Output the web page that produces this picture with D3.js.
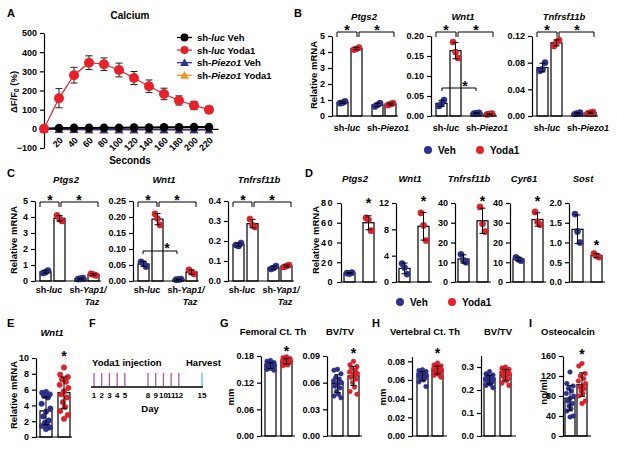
<!DOCTYPE html>
<html>
<head>
<meta charset="utf-8">
<script src="https://cdn.jsdelivr.net/npm/d3@7"></script>
<style>
body { margin: 0; background: #fff; }
text { font-family: "Liberation Sans", Arial, sans-serif; font-weight: bold; fill: #000; }
</style>
</head>
<body>
<script>
// ---- A: calcium trace (mean, error)
const seconds = [0, 20, 40, 60, 80, 100, 120, 140, 160, 180, 200, 220]
const lucVeh = [0, 4, 5, 5, 6, 6, 7, 7, 8, 8, 9, 9]
const lucVehErr = [0, 2, 2, 2, 2, 2, 2, 2, 2, 2, 2, 2]
const lucYoda = [0, 160, 280, 345, 337, 307, 265, 222, 182, 148, 122, 100]
const lucYodaErr = [0, 50, 41, 36, 33, 36, 34, 33, 30, 24, 21, 15]
const piezoVeh = [0, -3, -3, -4, -4, -4, -4, -4, -4, -5, -5, -5]
const piezoYoda = [0, -5, -5, -6, -6, -6, -6, -6, -6, -6, -6, -6]
const aTicks = [-100, 0, 100, 200, 300, 400, 500]

// ---- B: sh-luc Veh, sh-luc Yoda1, sh-Piezo1 Veh, sh-Piezo1 Yoda1
const bGenes = ['Ptgs2', 'Wnt1', 'Tnfrsf11b']
const bTicks = [[0, 1, 2, 3, 4, 5], [0, 0.05, 0.1, 0.15, 0.2], [0, 0.04, 0.08, 0.12]]
const bPtgs2 = [[0.8, 0.92, 0.83], [4.15, 4.28, 4.2], [0.6, 0.8, 0.7], [0.68, 0.8, 0.75]]
const bWnt1 = [[0.025, 0.04, 0.03], [0.185, 0.145, 0.16], [0.006, 0.008, 0.007], [0.004, 0.006, 0.005]]
const bTnfrsf11b = [[0.068, 0.08, 0.07], [0.105, 0.114, 0.11], [0.003, 0.005, 0.004], [0.004, 0.006, 0.005]]

// ---- C: sh-luc Veh, sh-luc Yoda1, sh-Yap1/Taz Veh, sh-Yap1/Taz Yoda1
const cGenes = ['Ptgs2', 'Wnt1', 'Tnfrsf11b']
const cTicks = [[0, 1, 2, 3, 4, 5], [0, 0.05, 0.1, 0.15, 0.2, 0.25], [0, 0.1, 0.2, 0.3, 0.4]]
const cPtgs2 = [[0.5, 0.65, 0.55], [4.1, 3.75, 3.9], [0.12, 0.18, 0.15], [0.45, 0.35, 0.4]]
const cWnt1 = [[0.06, 0.045, 0.055], [0.21, 0.175, 0.195], [0.004, 0.006, 0.005], [0.035, 0.022, 0.027]]
const cTnfrsf11b = [[0.18, 0.19, 0.175], [0.31, 0.27, 0.28], [0.06, 0.075, 0.065], [0.07, 0.08, 0.075]]

// ---- D: Veh, Yoda1
const dGenes = ['Ptgs2', 'Wnt1', 'Tnfrsf11b', 'Cyr61', 'Sost']
const dTicks = [[0, 20, 40, 60, 80], [0, 4, 8, 12], [0, 10, 20, 30, 40], [0, 10, 20, 30, 40], [0, 0.5, 1, 1.5, 2]]
const dPtgs2 = [[9, 9.5, 8.5], [65, 52, 63]]
const dWnt1 = [[2.8, 1.2, 2.2], [10.5, 6.3, 8.6]]
const dTnfrsf11b = [[14, 10, 11], [38, 25.5, 29.5]]
const dCyr61 = [[12.5, 10.8, 11.5], [35.5, 29, 30.5]]
const dSost = [[1.72, 1.0, 1.28], [0.72, 0.63, 0.66]]

// ---- E: Wnt1 in vivo
const eTicks = [0, 2, 4, 6, 8, 10]
const eWnt1Veh = [5.7, 5.6, 5.4, 5.2, 5.0, 4.2, 3.6, 3.2, 2.6, 2.1, 1.8, 1.6, 1.4, 1.2, 1.0]
const eWnt1Yoda = [8.8, 7.9, 7.6, 7.3, 7.0, 6.6, 6.2, 5.8, 5.4, 5.0, 4.4, 3.8, 3.3, 2.8, 2.3]

// ---- F: schedule
const injectionDays = [1, 2, 3, 4, 5, 8, 9, 10, 11, 12]
const harvestDay = 15

// ---- G-I
const femCtThTicks = [0, 0.06, 0.12, 0.18]
const femCtThVeh = [0.17, 0.168, 0.165, 0.163, 0.162, 0.16, 0.159, 0.158, 0.156, 0.155, 0.153, 0.152, 0.15, 0.148, 0.157]
const femCtThYoda = [0.178, 0.176, 0.174, 0.172, 0.17, 0.169, 0.168, 0.167, 0.166, 0.164, 0.162, 0.16, 0.158, 0.172, 0.165]
const femBvtvTicks = [0, 0.03, 0.06, 0.09]
const femBvtvVeh = [0.075, 0.074, 0.07, 0.066, 0.064, 0.062, 0.06, 0.058, 0.056, 0.054, 0.05, 0.047, 0.045, 0.043, 0.06]
const femBvtvYoda = [0.084, 0.08, 0.078, 0.076, 0.074, 0.072, 0.07, 0.068, 0.066, 0.064, 0.06, 0.055, 0.05, 0.047, 0.07]
const vertCtThTicks = [0, 0.02, 0.04, 0.06, 0.08]
const vertCtThVeh = [0.071, 0.07, 0.069, 0.068, 0.067, 0.066, 0.065, 0.064, 0.063, 0.062, 0.061, 0.06, 0.058, 0.053, 0.065]
const vertCtThYoda = [0.078, 0.076, 0.075, 0.074, 0.073, 0.072, 0.071, 0.07, 0.069, 0.068, 0.067, 0.066, 0.065, 0.063, 0.07]
const vertBvtvTicks = [0, 0.1, 0.2, 0.3]
const vertBvtvVeh = [0.28, 0.27, 0.265, 0.26, 0.255, 0.25, 0.248, 0.245, 0.24, 0.235, 0.23, 0.225, 0.22, 0.21, 0.25]
const vertBvtvYoda = [0.3, 0.295, 0.29, 0.285, 0.28, 0.275, 0.27, 0.265, 0.26, 0.25, 0.245, 0.24, 0.23, 0.22, 0.27]
const oclnTicks = [0, 40, 80, 120, 160]
const oclnVeh = [128, 105, 100, 95, 90, 85, 80, 75, 70, 65, 60, 55, 50, 40, 38]
const oclnYoda = [145, 140, 125, 120, 115, 110, 105, 100, 98, 95, 90, 85, 80, 70, 65]

const red = '#e8202a', blue = '#2e3192', orange = '#f7941d', purple = '#a45ca8', cyan = '#45c1e6'
const jit3 = [-2.5, 2.5, 0]
const jit15 = [0, -3.5, 3.5, -1.8, 1.8, -4, 4, 0, -2.5, 2.5, -1, 1, -3.5, 3.5, 0]

const svg = d3.select('body').append('svg').attr('width', 617).attr('height', 449)

// text with _italic_ segments
function label(x, y, str, size = 9.5, anchor = 'middle', rot = false) {
  const t = svg.append('text').attr('x', x).attr('y', y)
    .attr('font-size', size).attr('text-anchor', anchor)
  if (rot) t.attr('transform', `rotate(-90,${x},${y})`)
  str.split('_').forEach((s, i) => {
    if (s) t.append('tspan').text(s).attr('font-style', i % 2 ? 'italic' : null)
  })
  return t
}
function star(x, cy) { label(x, cy + 8, '*', 14) }
function bracket(x1, x2, y, drop) {
  svg.append('path').attr('d', `M${x1},${y + drop}V${y}H${x2}V${y + drop}`)
    .attr('fill', 'none').attr('stroke', '#000').attr('stroke-width', 1)
}
function styleAxis(ax, size = 9) {
  ax.attr('font-family', null).attr('font-size', null)
  ax.selectAll('text').attr('font-size', size)
  ax.selectAll('path,line').attr('stroke', '#000').attr('stroke-width', 1.2)
}

function barChart(c) {
  const y = d3.scaleLinear().domain([0, c.max]).range([c.y0, c.y1])
  const g = svg.append('g')
  c.groups.forEach((dots, i) => {
    const x0 = c.x + c.offs[i], cx = x0 + c.bw / 2
    const m = d3.mean(dots), sd = d3.deviation(dots)
    g.append('rect').attr('x', x0).attr('y', y(m)).attr('width', c.bw).attr('height', y(0) - y(m))
      .attr('fill', '#fff').attr('stroke', '#000').attr('stroke-width', 1.2)
    const col = c.colors[i]
    const jit = dots.length > 3 ? jit15 : jit3
    g.selectAll(null).data(dots).join('circle')
      .attr('cx', (d, k) => cx + jit[k % jit.length] * c.bw / 11)
      .attr('cy', d => y(d)).attr('r', c.r || 3.1)
      .attr('fill', col).attr('stroke', d3.color(col).darker(0.7)).attr('stroke-width', 0.5)
    const lo = y(Math.max(0, m - sd)), hi = y(m + sd), cw = 3
    g.append('path').attr('d', `M${cx},${lo}V${hi}M${cx - cw},${hi}H${cx + cw}M${cx - cw},${lo}H${cx + cw}`)
      .attr('stroke', '#000').attr('stroke-width', 1).attr('fill', 'none')
  })
  const ax = g.append('g').attr('transform', `translate(${c.x},0)`)
    .call(d3.axisLeft(y).tickValues(c.ticks).tickFormat(d3.format(c.fmt)).tickSize(4).tickSizeOuter(0))
  styleAxis(ax)
  if (c.spacing) ax.selectAll('text').attr('letter-spacing', c.spacing)
  g.append('line').attr('x1', c.x).attr('x2', c.x + c.len).attr('y1', c.y0).attr('y2', c.y0)
    .attr('stroke', '#000').attr('stroke-width', 1.2)
  return y
}

// ================= A =================
label(7, 17, 'A', 11, 'start')
label(130, 19, 'Calcium', 10)
const xA = d3.scaleLinear().domain([0, 232]).range([44, 218])
const yA = d3.scaleLinear().domain([-100, 500]).range([148, 33])

const axYA = svg.append('g').attr('transform', 'translate(44,0)')
  .call(d3.axisLeft(yA).tickValues(aTicks).tickSize(4).tickSizeOuter(0))
styleAxis(axYA)
const axXA = svg.append('g').attr('transform', `translate(0,${yA(0)})`)
  .call(d3.axisBottom(xA).tickValues(seconds.slice(1)).tickSize(4).tickSizeOuter(0))
styleAxis(axXA)
axXA.selectAll('text').attr('x', 0).attr('y', 0).attr('dy', null)
  .attr('text-anchor', 'end').attr('transform', 'translate(4,12) rotate(-45)')
label(130, 164, 'Seconds', 10)
const aLab = svg.append('text').attr('x', 16.5).attr('y', 92).attr('font-size', 9.5)
  .attr('text-anchor', 'middle').attr('transform', 'rotate(-90,16.5,92)')
aLab.append('tspan').text('ΔF/F')
aLab.append('tspan').text('0').attr('font-size', 6.5).attr('dy', 2)
aLab.append('tspan').text(' (%)').attr('dy', -2)

const lineA = d3.line().x((d, i) => xA(seconds[i])).y(d => yA(d))
const tri = d3.symbol(d3.symbolTriangle, 34)
function seriesA(vals, col, shape, r, w) {
  svg.append('path').attr('d', lineA(vals)).attr('fill', 'none').attr('stroke', col).attr('stroke-width', w)
  if (shape === 'tri') {
    svg.selectAll(null).data(vals).join('path').attr('d', tri)
      .attr('transform', (d, i) => `translate(${xA(seconds[i])},${yA(d) + 1})`).attr('fill', col)
  } else {
    svg.selectAll(null).data(vals).join('circle')
      .attr('cx', (d, i) => xA(seconds[i])).attr('cy', d => yA(d)).attr('r', r).attr('fill', col)
  }
}
function errA(vals, errs) {
  svg.append('g').selectAll('path').data(vals).join('path')
    .attr('d', (d, i) => {
      const x = xA(seconds[i]), t = yA(d + errs[i]), b = yA(d - errs[i])
      return `M${x},${b}V${t}M${x - 3.5},${t}H${x + 3.5}M${x - 3.5},${b}H${x + 3.5}`
    })
    .attr('fill', 'none').attr('stroke', '#222').attr('stroke-width', 1)
}
seriesA(piezoYoda, orange, 'tri', 0, 1.2)
seriesA(piezoVeh, blue, 'tri', 0, 1.2)
errA(lucVeh, lucVehErr)
seriesA(lucVeh, '#000', 'circle', 4.3, 2)
errA(lucYoda, lucYodaErr)
seriesA(lucYoda, red, 'circle', 5, 1.2)

const legA = [
  ['sh-_luc_ Veh', '#000', 'circle'],
  ['sh-_luc_ Yoda1', red, 'circle'],
  ['sh-_Piezo1_ Veh', blue, 'tri'],
  ['sh-_Piezo1_ Yoda1', orange, 'tri']
]
legA.forEach((l, i) => {
  const y = 37.5 + i * 12.6
  svg.append('line').attr('x1', 177).attr('x2', 192).attr('y1', y).attr('y2', y).attr('stroke', l[1]).attr('stroke-width', 1.3)
  if (l[2] === 'circle') svg.append('circle').attr('cx', 184.5).attr('cy', y).attr('r', 4).attr('fill', l[1])
  else svg.append('path').attr('d', tri).attr('transform', `translate(184.5,${y + 0.8})`).attr('fill', l[1])
  label(197, y + 3.5, l[0], 9.5, 'start')
})

// ================= B =================
label(294, 17, 'B', 11, 'start')
label(316.5, 75, 'Relative mRNA', 9.5, 'middle', true)
const bAxisX = [332, 431, 532]
const bData = [bPtgs2, bWnt1, bTnfrsf11b]
const bFmt = ['d', '.2f', '.2f']
bGenes.forEach((gene, i) => {
  const x = bAxisX[i], t = bTicks[i]
  barChart({ x, y0: 116, y1: 36, max: t[t.length - 1], ticks: t, fmt: bFmt[i], groups: bData[i],
    offs: [5, 19, 40, 53], bw: 11, len: 66, colors: [blue, red, blue, red] })
  label(x + 32, 20, `_${gene}_`)
  label(x + 15, 131, 'sh-_luc_', 9)
  label(x + 56, 131, 'sh-_Piezo1_', 9)
  bracket(x + 5, x + 25, 32, 5)
  bracket(x + 27, x + 62, 32, 5)
  star(x + 15, 27)
  star(x + 45, 27)
})
bracket(bAxisX[1] + 11, bAxisX[1] + 45, 88, 3)
star(bAxisX[1] + 34, 83)
svg.append('circle').attr('cx', 428).attr('cy', 150).attr('r', 4).attr('fill', blue)
label(438, 153.5, 'Veh', 10, 'start')
svg.append('circle').attr('cx', 480).attr('cy', 150).attr('r', 4).attr('fill', red)
label(490, 153.5, 'Yoda1', 10, 'start')

// ================= C =================
label(7, 177, 'C', 11, 'start')
label(16.5, 240, 'Relative mRNA', 9.5, 'middle', true)
const cAxisX = [35, 133, 228]
const cData = [cPtgs2, cWnt1, cTnfrsf11b]
const cFmt = ['d', '.2f', '.1f']
cGenes.forEach((gene, i) => {
  const x = cAxisX[i], t = cTicks[i]
  barChart({ x, y0: 281, y1: 201, max: t[t.length - 1], ticks: t, fmt: cFmt[i], groups: cData[i],
    offs: [5, 19, 40, 53], bw: 11, len: 66, colors: [blue, red, blue, red] })
  label(x + 31, 183, `_${gene}_`)
  label(x + 14, 293, 'sh-_luc_', 9)
  label(x + 53, 293, 'sh-_Yap1/_', 9)
  label(x + 57, 305, '_Taz_', 9)
  bracket(x + 5, x + 24, 202, 5)
  bracket(x + 26, x + 63, 202, 5)
  star(x + 15, 197)
  star(x + 44, 197)
})
bracket(cAxisX[1] + 10, cAxisX[1] + 44, 251, 3)
star(cAxisX[1] + 34, 245)

// ================= D =================
label(305, 177, 'D', 11, 'start')
label(318.5, 240, 'Relative mRNA', 9.5, 'middle', true)
const dAxisX = [341, 396, 455, 510, 569]
const dData = [dPtgs2, dWnt1, dTnfrsf11b, dCyr61, dSost]
const dFmt = ['d', 'd', 'd', 'd', '.1f']
const dStarY = [200, 198, 198, 198, 242]
dGenes.forEach((gene, i) => {
  const x = dAxisX[i], t = dTicks[i]
  barChart({ x, y0: 282, y1: 203, max: t[t.length - 1], ticks: t, fmt: dFmt[i], groups: dData[i],
    offs: [3, 22], bw: 11, len: 36, colors: [blue, red], spacing: i === 0 ? 1.5 : null })
  label(x + 14, 182, `_${gene}_`)
  star(x + 27.5, dStarY[i])
})
svg.append('circle').attr('cx', 400).attr('cy', 302).attr('r', 4).attr('fill', blue)
label(410, 305.5, 'Veh', 10, 'start')
svg.append('circle').attr('cx', 452).attr('cy', 302).attr('r', 4).attr('fill', red)
label(462, 305.5, 'Yoda1', 10, 'start')

// ================= E =================
label(7, 327, 'E', 11, 'start')
label(52, 336, '_Wnt1_', 9.5)
label(16.5, 395, 'Relative mRNA', 9.5, 'middle', true)
barChart({ x: 36, y0: 437, y1: 358, max: 10, ticks: eTicks, fmt: 'd', groups: [eWnt1Veh, eWnt1Yoda],
  offs: [4, 22], bw: 12, len: 36, colors: [blue, red], r: 2.7 })
star(64, 353)

// ================= F =================
label(89, 327, 'F', 11, 'start')
const xF = d3.scaleLinear().domain([1, 15]).range([94, 202])
svg.append('line').attr('x1', 91).attr('x2', 203).attr('y1', 387).attr('y2', 387).attr('stroke', '#000').attr('stroke-width', 1.6)
svg.selectAll(null).data(injectionDays).join('line')
  .attr('x1', d => xF(d)).attr('x2', d => xF(d)).attr('y1', 373).attr('y2', 386)
  .attr('stroke', purple).attr('stroke-width', 1.3)
svg.append('line').attr('x1', xF(harvestDay)).attr('x2', xF(harvestDay)).attr('y1', 373).attr('y2', 386)
  .attr('stroke', cyan).attr('stroke-width', 1.3)
svg.selectAll(null).data([...injectionDays, harvestDay]).join('text')
  .attr('x', d => xF(d)).attr('y', 398).attr('font-size', 8).attr('text-anchor', 'middle').text(d => d)
label(92, 366, 'Yoda1 injection', 9.5, 'start')
label(186, 366, 'Harvest', 9.5, 'start')
label(150, 412, 'Day', 9.5)

// ================= G =================
label(220, 327, 'G', 11, 'start')
label(273, 335, 'Femoral Ct. Th', 9.5)
label(340, 335, 'BV/TV', 9.5)
label(233.5, 397, 'mm', 9.5, 'middle', true)
barChart({ x: 261, y0: 436, y1: 356, max: 0.18, ticks: femCtThTicks, fmt: '.2f', groups: [femCtThVeh, femCtThYoda],
  offs: [4, 20], bw: 11, len: 34, colors: [blue, red], r: 2.3 })
star(286.5, 348)
barChart({ x: 327, y0: 436, y1: 356, max: 0.09, ticks: femBvtvTicks, fmt: '.2f', groups: [femBvtvVeh, femBvtvYoda],
  offs: [5, 21], bw: 11, len: 35, colors: [blue, red], r: 2.3 })
star(353.5, 350)

// ================= H =================
label(372, 327, 'H', 11, 'start')
label(425, 335, 'Vertebral Ct. Th', 9.5)
label(498, 335, 'BV/TV', 9.5)
label(385.5, 397, 'mm', 9.5, 'middle', true)
barChart({ x: 412, y0: 436, y1: 356.6, max: 0.085, ticks: vertCtThTicks, fmt: '.2f', groups: [vertCtThVeh, vertCtThYoda],
  offs: [5, 20], bw: 11, len: 35, colors: [blue, red], r: 2.3 })
star(437.5, 350)
barChart({ x: 481, y0: 436, y1: 355.5, max: 0.35, ticks: vertBvtvTicks, fmt: '.1f', groups: [vertBvtvVeh, vertBvtvYoda],
  offs: [3, 19], bw: 11, len: 35, colors: [blue, red], r: 2.3 })

// ================= I =================
label(529, 327, 'I', 11, 'start')
label(568, 335, 'Osteocalcin', 9.5)
label(546.5, 392, 'ng/ml', 9.5, 'middle', true)
barChart({ x: 563, y0: 436, y1: 356, max: 160, ticks: oclnTicks, fmt: 'd', groups: [oclnVeh, oclnYoda],
  offs: [2, 14], bw: 10, len: 28, colors: [blue, red], r: 2.3 })
star(582, 351)
</script>
</body>
</html>
